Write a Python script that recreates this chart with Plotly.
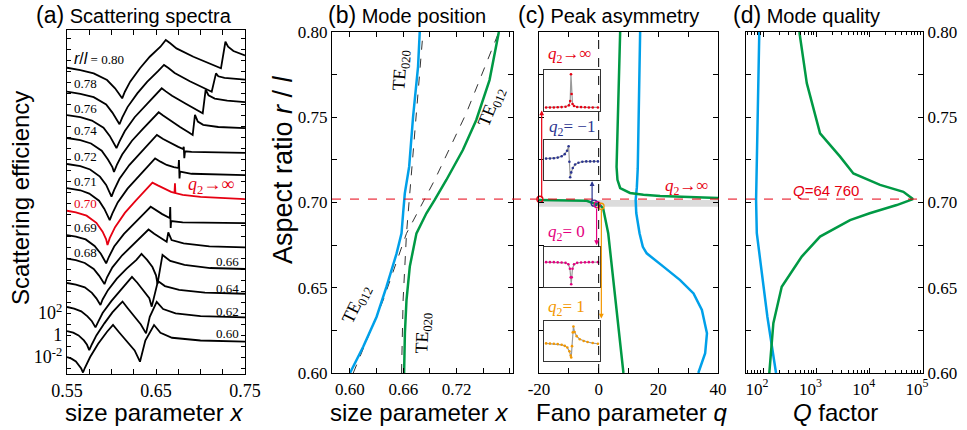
import plotly.graph_objects as go

W, H = 967, 430

# ---------------- (a) Scattering spectra (log10 efficiency, relative to each curve's left end) ----------------
spectra_labels = ["0.80", "0.78", "0.76", "0.74", "0.72", "0.71", "0.70", "0.69", "0.68", "0.66", "0.64", "0.62", "0.60"]
stack_shift_dec = [24.30, 22.12, 20.00, 17.91, 15.55, 13.36, 11.30, 9.09, 6.95, 4.73, 2.55, 0.36, -2.00]

sx_080 = [0.550, 0.565, 0.580, 0.595, 0.604, 0.610, 0.612, 0.615, 0.621, 0.632, 0.643, 0.655, 0.661, 0.666, 0.673, 0.692, 0.711, 0.723, 0.728, 0.731, 0.737, 0.750]
sy_080 = [0, -0.21, -0.51, -1.12, -1.87, -2.48, -2.78, -2.18, -1.27, -0.05, 1.00, 1.91, 2.52, 2.22, 1.76, 1.00, 0.40, -0.05, 2.36, 1.91, 1.52, 1.11]
sx_078 = [0.550, 0.565, 0.580, 0.594, 0.601, 0.606, 0.609, 0.612, 0.618, 0.629, 0.640, 0.652, 0.659, 0.664, 0.671, 0.688, 0.703, 0.7126, 0.7174, 0.720, 0.727, 0.738, 0.750]
sy_078 = [0, -0.2, -0.5, -1.15, -1.9, -2.6, -2.96, -2.35, -1.4, -0.15, 0.9, 1.85, 2.43, 2.15, 1.7, 0.95, 0.35, 0.0, 1.67, 1.4, 1.25, 1.15, 1.1]
sx_076 = [0.550, 0.565, 0.578, 0.591, 0.598, 0.603, 0.6056, 0.609, 0.615, 0.626, 0.638, 0.650, 0.6564, 0.661, 0.668, 0.684, 0.697, 0.7025, 0.7058, 0.709, 0.716, 0.730, 0.750]
sy_076 = [0, -0.2, -0.5, -1.15, -1.9, -2.6, -3.0, -2.4, -1.45, -0.2, 0.85, 1.85, 2.43, 2.15, 1.75, 1.0, 0.45, 0.15, 2.3, 1.8, 1.5, 1.3, 1.18]
sx_074 = [0.550, 0.565, 0.577, 0.589, 0.596, 0.601, 0.6028, 0.606, 0.612, 0.623, 0.635, 0.647, 0.653, 0.658, 0.665, 0.677, 0.687, 0.6912, 0.6938, 0.697, 0.703, 0.720, 0.750]
sy_074 = [0, -0.2, -0.5, -1.15, -1.95, -2.65, -3.09, -2.45, -1.5, -0.25, 0.8, 1.8, 2.34, 2.05, 1.65, 1.0, 0.5, 0.27, 2.1, 1.5, 1.2, 1.0, 0.9]
sx_072 = [0.550, 0.565, 0.576, 0.587, 0.594, 0.598, 0.600, 0.603, 0.609, 0.620, 0.632, 0.644, 0.651, 0.658, 0.666, 0.675, 0.6805, 0.6812, 0.6818, 0.6826, 0.690, 0.750]
sy_072 = [0, -0.2, -0.5, -1.15, -1.9, -2.6, -2.97, -2.35, -1.35, -0.1, 0.95, 2.0, 2.64, 2.27, 1.91, 1.55, 1.36, 1.57, 0.52, 1.15, 1.1, 1.0]
sx_071 = [0.550, 0.565, 0.575, 0.586, 0.592, 0.596, 0.598, 0.601, 0.607, 0.618, 0.630, 0.642, 0.649, 0.655, 0.662, 0.670, 0.6752, 0.6758, 0.6764, 0.677, 0.690, 0.750]
sy_071 = [0, -0.2, -0.5, -1.15, -1.9, -2.55, -2.91, -2.3, -1.3, -0.05, 1.05, 2.1, 2.7, 2.4, 2.1, 1.9, 1.82, 2.55, 0.88, 1.5, 1.3, 1.18]
sx_070 = [0.550, 0.560, 0.572, 0.583, 0.590, 0.594, 0.5955, 0.598, 0.604, 0.615, 0.627, 0.639, 0.646, 0.652, 0.659, 0.667, 0.6708, 0.6713, 0.6718, 0.680, 0.700, 0.750]
sy_070 = [0, -0.15, -0.45, -1.1, -1.9, -2.6, -3.12, -2.5, -1.5, -0.2, 0.9, 1.95, 2.55, 2.3, 2.0, 1.72, 1.62, 2.49, 1.6, 1.45, 1.25, 1.06]
sx_069 = [0.550, 0.560, 0.571, 0.581, 0.588, 0.592, 0.594, 0.597, 0.603, 0.614, 0.625, 0.637, 0.644, 0.650, 0.657, 0.6655, 0.6660, 0.6665, 0.667, 0.680, 0.750]
sy_069 = [0, -0.15, -0.4, -1.0, -1.7, -2.25, -2.57, -2.0, -1.05, 0.1, 1.05, 2.0, 2.57, 2.25, 1.9, 1.55, 2.55, 0.64, 1.27, 1.15, 1.09]
sx_068 = [0.550, 0.560, 0.570, 0.580, 0.586, 0.590, 0.5921, 0.595, 0.601, 0.612, 0.623, 0.635, 0.6416, 0.648, 0.655, 0.6620, 0.6638, 0.6675, 0.681, 0.710, 0.750]
sy_068 = [0, -0.15, -0.4, -0.95, -1.55, -2.0, -2.32, -1.7, -0.8, 0.3, 1.2, 2.1, 2.64, 2.25, 1.85, 1.53, 2.38, 1.68, 1.38, 1.1, 1.02]
sx_066 = [0.550, 0.560, 0.570, 0.578, 0.583, 0.586, 0.5876, 0.590, 0.596, 0.606, 0.617, 0.628, 0.6337, 0.640, 0.646, 0.650, 0.6517, 0.6573, 0.666, 0.682, 0.711, 0.750]
sy_066 = [0, -0.15, -0.4, -0.9, -1.4, -1.75, -2.0, -1.5, -0.65, 0.4, 1.3, 2.1, 2.64, 2.1, 1.45, 0.7, -0.09, 2.55, 2.0, 1.64, 1.36, 1.27]
sx_064 = [0.550, 0.558, 0.566, 0.573, 0.578, 0.5805, 0.582, 0.585, 0.590, 0.600, 0.610, 0.619, 0.623, 0.629, 0.636, 0.6425, 0.6452, 0.6522, 0.660, 0.676, 0.705, 0.750]
sy_064 = [0, -0.15, -0.4, -0.85, -1.3, -1.6, -1.86, -1.35, -0.55, 0.55, 1.5, 2.3, 2.73, 2.2, 1.5, 0.8, 0.03, 2.36, 1.9, 1.55, 1.3, 1.2]
sx_062 = [0.550, 0.557, 0.563, 0.569, 0.5725, 0.574, 0.575, 0.578, 0.583, 0.592, 0.601, 0.609, 0.6124, 0.618, 0.626, 0.633, 0.6388, 0.643, 0.6508, 0.658, 0.672, 0.700, 0.750]
sy_062 = [0, -0.15, -0.4, -0.85, -1.25, -1.5, -1.73, -1.2, -0.4, 0.7, 1.7, 2.4, 2.68, 2.1, 1.35, 0.6, -0.21, 1.3, 2.66, 2.0, 1.6, 1.35, 1.25]
sx_060 = [0.550, 0.555, 0.560, 0.564, 0.566, 0.568, 0.570, 0.576, 0.585, 0.595, 0.6017, 0.608, 0.617, 0.626, 0.632, 0.638, 0.6478, 0.655, 0.668, 0.700, 0.750]
sy_060 = [0, -0.15, -0.4, -0.8, -1.05, -1.41, -1.0, 0.0, 1.2, 2.3, 2.91, 2.3, 1.5, 0.6, -0.43, 1.5, 2.91, 2.2, 1.75, 1.5, 1.39]

spectra_x = [sx_080, sx_078, sx_076, sx_074, sx_072, sx_071, sx_070, sx_069, sx_068, sx_066, sx_064, sx_062, sx_060]
spectra_y = [sy_080, sy_078, sy_076, sy_074, sy_072, sy_071, sy_070, sy_069, sy_068, sy_066, sy_064, sy_062, sy_060]

a_xticks = [0.55, 0.575, 0.60, 0.625, 0.65, 0.675, 0.70, 0.725, 0.75]
a_xtick_text = ["0.55", "", "", "", "0.65", "", "", "", "0.75"]
a_ytick_vals = list(range(-3, 28))
a_ytick_text = {-2: "10<sup>-2</sup>", 0: "1", 2: "10<sup>2</sup>"}

# ---------------- (b) Mode position ----------------
b_blue_x = [0.600, 0.6149, 0.630, 0.6411, 0.6524, 0.658, 0.6598, 0.6617, 0.6666, 0.671, 0.6766, 0.6785]
b_blue_r = [0.60, 0.6154, 0.633, 0.6506, 0.670, 0.6819, 0.6937, 0.7054, 0.721, 0.7503, 0.7797, 0.80]
b_green_x = [0.6609, 0.6618, 0.6636, 0.6673, 0.6748, 0.686, 0.6953, 0.7084, 0.727, 0.7421, 0.757, 0.7675]
b_green_r = [0.60, 0.6233, 0.6428, 0.6624, 0.6819, 0.6937, 0.7015, 0.7132, 0.7308, 0.7484, 0.7718, 0.80]
b_unc012_x = [0.6037, 0.6374, 0.6636, 0.6953, 0.7308, 0.7675]
b_unc012_r = [0.60, 0.6428, 0.6819, 0.7132, 0.7523, 0.80]
b_unc020_x = [0.658, 0.6598, 0.6636, 0.671, 0.6822]
b_unc020_r = [0.60, 0.6428, 0.6819, 0.7308, 0.80]
r_ticks = [0.60, 0.625, 0.65, 0.675, 0.70, 0.725, 0.75, 0.775, 0.80]
r_tick_text = ["0.60", "", "0.65", "", "0.70", "", "0.75", "", "0.80"]
b_xticks = [0.60, 0.63, 0.66, 0.69, 0.72, 0.75, 0.78]
b_xtick_text = ["0.60", "", "0.66", "", "0.72", "", ""]
r_special = 0.702

# ---------------- (c) Peak asymmetry ----------------
c_green_up_q = [7.2, 6.9, 6.6, 6.3, 6.0, 6.3, 7.2, 10.5, 15, 20.6, 30, 40]
c_green_up_r = [0.80, 0.78, 0.76, 0.74, 0.7208, 0.7133, 0.7085, 0.7056, 0.7045, 0.7038, 0.7031, 0.7026]
c_green_lo_q = [-20, -10, -4, -2.4, -0.5, 0.4, 1.5, 2.1, 2.7, 3.2, 8.3]
c_green_lo_r = [0.7015, 0.7014, 0.7010, 0.6999, 0.6992, 0.6985, 0.6966, 0.6917, 0.6860, 0.682, 0.60]
c_blue_q = [13.9, 13.6, 13.1, 12.8, 12.4, 12.6, 13.7, 14.8, 16.1, 21.7, 27.3, 31.8, 34.6, 36.3, 35.7, 33.4]
c_blue_r = [0.80, 0.76, 0.72, 0.709, 0.7015, 0.6938, 0.682, 0.674, 0.6702, 0.6624, 0.6545, 0.6467, 0.637, 0.6233, 0.6116, 0.60]
c_xticks = [-20, -10, 0, 10, 20, 30, 40]
c_xtick_text = ["-20", "", "0", "", "20", "", "40"]
c_mark_q = [-19.7, -1.5, -0.5, 0.8]
c_mark_r = [0.7019, 0.6996, 0.6987, 0.6978]
c_band_r = [0.6975, 0.7015]

# inset profiles (normalised detuning, normalised intensity)
in1_x = [-1.0, -0.85, -0.7, -0.55, -0.4, -0.25, -0.12, -0.07, -0.04, -0.015, 0.02, 0.08, 0.2, 0.35, 0.5, 0.65, 0.8, 1.0]
in1_y = [0.02, 0.02, 0.02, 0.025, 0.03, 0.04, 0.08, 0.2, 0.96, 0.4, 0.12, 0.06, 0.035, 0.03, 0.025, 0.02, 0.02, 0.02]
in2_x = [-1.0, -0.85, -0.7, -0.55, -0.4, -0.28, -0.19, -0.13, -0.1, -0.07, -0.03, 0.03, 0.12, 0.25, 0.4, 0.55, 0.7, 0.85, 1.0]
in2_y = [0.54, 0.545, 0.55, 0.57, 0.61, 0.67, 0.77, 0.9, 0.45, 0.0, 0.14, 0.27, 0.37, 0.42, 0.45, 0.46, 0.46, 0.46, 0.46]
in3_x = [-1.0, -0.85, -0.7, -0.55, -0.4, -0.25, -0.14, -0.08, -0.05, -0.03, -0.01, 0.02, 0.08, 0.2, 0.35, 0.5, 0.65, 0.8, 1.0]
in3_y = [0.64, 0.64, 0.64, 0.635, 0.63, 0.62, 0.58, 0.45, 0.2, 0.0, 0.2, 0.45, 0.58, 0.62, 0.63, 0.635, 0.64, 0.64, 0.64]
in4_x = [-1.0, -0.85, -0.7, -0.55, -0.4, -0.28, -0.18, -0.1, -0.05, -0.03, 0.0, 0.03, 0.055, 0.1, 0.18, 0.3, 0.45, 0.6, 0.8, 1.0]
in4_y = [0.43, 0.425, 0.42, 0.41, 0.39, 0.36, 0.31, 0.2, 0.08, 0.02, 0.35, 0.75, 0.92, 0.76, 0.64, 0.55, 0.5, 0.47, 0.44, 0.42]

# ---------------- (d) Mode quality ----------------
d_blue_r = [0.80, 0.76, 0.7308, 0.7015, 0.682, 0.6624, 0.633, 0.60]
d_blue_Q = [85, 80.6, 76.3, 74, 76.3, 90.6, 120.5, 175]
d_green_r = [0.80, 0.770, 0.7406, 0.7269, 0.717, 0.7103, 0.7063, 0.702, 0.6985, 0.6937, 0.6897, 0.680, 0.6683, 0.6506, 0.6292, 0.60]
d_green_Q = [480, 661, 1172, 2786, 4946, 15660, 42850, 64760, 32200, 10000, 4285, 1172, 532, 224, 156, 131]
d_xticks = [100, 1000, 10000, 100000]
d_xtick_text = ["10<sup>2</sup>", "10<sup>3</sup>", "10<sup>4</sup>", "10<sup>5</sup>"]
d_minor = [50, 60, 70, 80, 90, 200, 300, 400, 500, 600, 700, 800, 900, 2000, 3000, 4000, 5000, 6000, 7000, 8000, 9000,
           20000, 30000, 40000, 50000, 60000, 70000, 80000, 90000]

# ---------------- styles ----------------
RED = "#e60012"
BLUE = "#00a0e9"
GREEN = "#009944"
NAVY = "#2b3590"
MAGENTA = "#e4007f"
ORANGE = "#f39800"
SERIF = "Liberation Serif"
SANS = "Liberation Sans"


def px_x(p):
    return p / W


def px_y(p):
    return 1 - p / H


fig = go.Figure()

# (a) spectra
for lab, shift, xs, ys in zip(spectra_labels, stack_shift_dec, spectra_x, spectra_y):
    col = RED if lab == "0.70" else "black"
    fig.add_trace(go.Scatter(x=xs, y=[v + shift for v in ys], mode="lines",
                             line=dict(color=col, width=1.8), xaxis="x", yaxis="y",
                             showlegend=False, hoverinfo="skip"))

# (b)
fig.add_trace(go.Scatter(x=b_unc012_x, y=b_unc012_r, mode="lines", line=dict(color="#333", width=1, dash="dash"),
                         xaxis="x2", yaxis="y2", showlegend=False))
fig.add_trace(go.Scatter(x=b_unc020_x, y=b_unc020_r, mode="lines", line=dict(color="#333", width=1, dash="dash"),
                         xaxis="x2", yaxis="y2", showlegend=False))
fig.add_trace(go.Scatter(x=b_blue_x, y=b_blue_r, mode="lines", line=dict(color=BLUE, width=2.5),
                         xaxis="x2", yaxis="y2", showlegend=False))
fig.add_trace(go.Scatter(x=b_green_x, y=b_green_r, mode="lines", line=dict(color=GREEN, width=2.5),
                         xaxis="x2", yaxis="y2", showlegend=False))

# (c)
fig.add_trace(go.Scatter(x=c_blue_q, y=c_blue_r, mode="lines", line=dict(color=BLUE, width=2.5),
                         xaxis="x3", yaxis="y3", showlegend=False))
fig.add_trace(go.Scatter(x=c_green_up_q, y=c_green_up_r, mode="lines", line=dict(color=GREEN, width=2.5),
                         xaxis="x3", yaxis="y3", showlegend=False))
fig.add_trace(go.Scatter(x=c_green_lo_q, y=c_green_lo_r, mode="lines", line=dict(color=GREEN, width=2.5),
                         xaxis="x3", yaxis="y3", showlegend=False))
fig.add_trace(go.Scatter(x=c_mark_q, y=c_mark_r, mode="markers",
                         marker=dict(symbol="circle-open", size=6, line=dict(width=1.3),
                                     color=[RED, NAVY, MAGENTA, ORANGE]),
                         xaxis="x3", yaxis="y3", showlegend=False, cliponaxis=False))

# (d)
fig.add_trace(go.Scatter(x=d_blue_Q, y=d_blue_r, mode="lines", line=dict(color=BLUE, width=2.5),
                         xaxis="x4", yaxis="y4", showlegend=False))
fig.add_trace(go.Scatter(x=d_green_Q, y=d_green_r, mode="lines", line=dict(color=GREEN, width=2.5),
                         xaxis="x4", yaxis="y4", showlegend=False))

# insets
insets = [(in1_x, in1_y, RED, 5), (in2_x, in2_y, NAVY, 6), (in3_x, in3_y, MAGENTA, 7), (in4_x, in4_y, ORANGE, 8)]
for xs, ys, col, k in insets:
    fig.add_trace(go.Scatter(x=xs, y=ys, mode="lines+markers", line=dict(color="#9a9a9a", width=1.2),
                             marker=dict(color=col, size=2.6), xaxis=f"x{k}", yaxis=f"y{k}", showlegend=False))

axis_common = dict(showgrid=False, zeroline=False, showline=True, linecolor="black", linewidth=1.2,
                   mirror="ticks", ticks="inside", tickcolor="black", tickwidth=1, automargin=False,
                   tickfont=dict(family=SERIF, size=17, color="black"))

Y_TOP, Y_BOT = 32, 373
layout = dict(
    template="none",
    width=W, height=H, margin=dict(l=0, r=0, t=0, b=0, pad=0), paper_bgcolor="white", plot_bgcolor="white",
    font=dict(family=SERIF, color="black"),
    xaxis=dict(axis_common, domain=[px_x(67), px_x(245)], range=[0.55, 0.75], anchor="y",
               tickmode="array", tickvals=a_xticks, ticktext=a_xtick_text, ticklen=5,
               tickfont=dict(family=SERIF, size=18, color="black")),
    yaxis=dict(axis_common, domain=[px_y(374), px_y(30)], range=[-3.545, 27.73], anchor="x",
               tickmode="array", tickvals=a_ytick_vals,
               ticktext=[a_ytick_text.get(v, "") for v in a_ytick_vals], ticklen=4,
               tickfont=dict(family=SERIF, size=18, color="black")),
    xaxis2=dict(axis_common, domain=[px_x(332), px_x(513)], range=[0.5798, 0.7834], anchor="y2",
                tickmode="array", tickvals=b_xticks, ticktext=b_xtick_text, ticklen=5),
    yaxis2=dict(axis_common, domain=[px_y(Y_BOT), px_y(Y_TOP)], range=[0.6, 0.8], anchor="x2",
                tickmode="array", tickvals=r_ticks, ticktext=r_tick_text, ticklen=5),
    xaxis3=dict(axis_common, domain=[px_x(539), px_x(718)], range=[-20, 40], anchor="y3",
                tickmode="array", tickvals=c_xticks, ticktext=c_xtick_text, ticklen=5),
    yaxis3=dict(axis_common, domain=[px_y(Y_BOT), px_y(Y_TOP)], range=[0.6, 0.8], anchor="x3",
                tickmode="array", tickvals=r_ticks, showticklabels=False, ticklen=5),
    xaxis4=dict(axis_common, domain=[px_x(746), px_x(923)], type="log", range=[1.68, 5.0], anchor="y4",
                tickmode="array", tickvals=d_xticks, ticktext=d_xtick_text, ticklen=5, ticklabelshift=-6,
                minor=dict(ticks="inside", ticklen=3, tickcolor="black", tickmode="array", tickvals=d_minor)),
    yaxis4=dict(axis_common, domain=[px_y(Y_BOT), px_y(Y_TOP)], range=[0.6, 0.8], anchor="x4", side="right",
                tickmode="array", tickvals=r_ticks, ticktext=r_tick_text, ticklen=5),
)

inset_boxes = [(70, 111), (140, 180), (247, 287), (321, 361)]
for k, (t, b) in zip(range(5, 9), inset_boxes):
    layout[f"xaxis{k}"] = dict(domain=[px_x(544), px_x(600)], range=[-1.08, 1.08], anchor=f"y{k}",
                               showgrid=False, zeroline=False, showline=True, mirror=True, automargin=False,
                               linecolor="#333", linewidth=1, showticklabels=False, ticks="")
    layout[f"yaxis{k}"] = dict(domain=[px_y(b), px_y(t)], range=[-0.08, 1.08], anchor=f"x{k}",
                               showgrid=False, zeroline=False, showline=True, mirror=True, automargin=False,
                               linecolor="#333", linewidth=1, showticklabels=False, ticks="")

fig.update_layout(**layout)

# shapes
fig.add_shape(type="rect", xref="x3", yref="y3", x0=-20, x1=40, y0=c_band_r[0], y1=c_band_r[1],
              fillcolor="#dcdcdc", line=dict(width=0), layer="below")
fig.add_shape(type="line", xref="x3", yref="y3", x0=0, x1=0, y0=0.6, y1=0.8,
              line=dict(color="black", width=1, dash="dash"), layer="above")
fig.add_shape(type="line", xref="paper", yref="y2", x0=px_x(332), x1=px_x(923), y0=r_special, y1=r_special,
              line=dict(color=RED, width=1, dash="dash"), layer="above")

ann = []


def add_text(text, x, y, size, family=SANS, color="black", xanchor="center", yanchor="middle",
             xref="paper", yref="paper", angle=0):
    ann.append(dict(text=text, x=x, y=y, xref=xref, yref=yref, showarrow=False, xanchor=xanchor,
                    yanchor=yanchor, textangle=angle, font=dict(family=family, size=size, color=color)))


# panel titles
add_text("<span style='font-size:23px'>(a)</span> Scattering spectra", px_x(34), px_y(15), 20, xanchor="left")
add_text("<span style='font-size:23px'>(b)</span> Mode position", px_x(326), px_y(15), 20, xanchor="left")
add_text("<span style='font-size:23px'>(c)</span> Peak asymmetry", px_x(516), px_y(15), 20, xanchor="left")
add_text("<span style='font-size:23px'>(d)</span> Mode quality", px_x(731), px_y(15), 20, xanchor="left")

# axis titles
add_text("size parameter <i>x</i>", px_x(154), px_y(412), 24)
add_text("size parameter <i>x</i>", px_x(419), px_y(412), 24)
add_text("Fano parameter <i>q</i>", px_x(631), px_y(412), 24)
add_text("<i>Q</i> factor", px_x(835), px_y(412), 24)
add_text("Scattering efficiency", px_x(20), px_y(198), 24, angle=-90)
add_text("Aspect ratio <i>r</i> / <i>l</i>", px_x(283), px_y(170), 27, angle=-90)

# (a) curve labels
left_label_y = {"0.80": 58, "0.78": 83, "0.76": 108, "0.74": 130, "0.72": 156, "0.71": 182, "0.70": 203,
                "0.69": 228, "0.68": 253}
right_label_y = {"0.66": 261, "0.64": 288, "0.62": 311, "0.60": 333}
for lab in spectra_labels:
    col = RED if lab == "0.70" else "black"
    if lab in left_label_y:
        txt = lab
        if lab == "0.80":
            txt = "<span style='font-family:Liberation Sans;font-size:16px'><i>r</i>/<i>l</i></span> = 0.80"
        add_text(txt, px_x(72), px_y(left_label_y[lab]), 13, family=SERIF, color=col, xanchor="left")
    else:
        add_text(lab, px_x(241), px_y(right_label_y[lab]), 13, family=SERIF, color=col, xanchor="right")
add_text("<i>q</i><sub>2</sub>→∞", px_x(211), px_y(186), 18, family=SERIF, color=RED)

# (b) mode labels
add_text("TE<sub>020</sub>", 0.6570, 0.7777, 18, family=SERIF, xref="x2", yref="y2", angle=-86)
add_text("TE<sub>012</sub>", 0.7590, 0.7560, 18, family=SERIF, xref="x2", yref="y2", angle=-68)
add_text("TE<sub>012</sub>", 0.6080, 0.6399, 18, family=SERIF, xref="x2", yref="y2", angle=-64)
add_text("TE<sub>020</sub>", 0.6825, 0.6233, 18, family=SERIF, xref="x2", yref="y2", angle=-88)

# (c) labels
add_text("<i>q</i><sub>2</sub>→∞", px_x(570), px_y(55), 17, family=SERIF, color=RED)
add_text("<i>q</i><sub>2</sub>= −1", px_x(572), px_y(128), 17, family=SERIF, color=NAVY)
add_text("<i>q</i><sub>2</sub>= 0", px_x(566), px_y(233), 17, family=SERIF, color=MAGENTA)
add_text("<i>q</i><sub>2</sub>= 1", px_x(566), px_y(308), 17, family=SERIF, color=ORANGE)
add_text("<i>q</i><sub>2</sub>→∞", px_x(687), px_y(187), 17, family=SERIF, color=RED)

# (d) label
add_text("<i>Q</i>=64 760", px_x(826), px_y(190), 15, family=SANS, color=RED)

# arrows in (c)
arrows = [(-19.1, 0.7019, 0.7540, RED), (-2.2, 0.7000, 0.7125, NAVY),
          (-0.7, 0.6973, 0.6750, MAGENTA), (0.9, 0.6968, 0.6320, ORANGE)]
for q, r0, r1, col in arrows:
    ann.append(dict(x=q, y=r1, ax=q, ay=r0, xref="x3", yref="y3", axref="x3", ayref="y3", text="",
                    showarrow=True, arrowhead=2, arrowsize=0.8, arrowwidth=1.2, arrowcolor=col))

fig.update_layout(annotations=ann)

fig.write_html("out.html", config={"displayModeBar": False},
               post_script="document.body.style.margin='0';document.body.style.overflow='hidden';")
